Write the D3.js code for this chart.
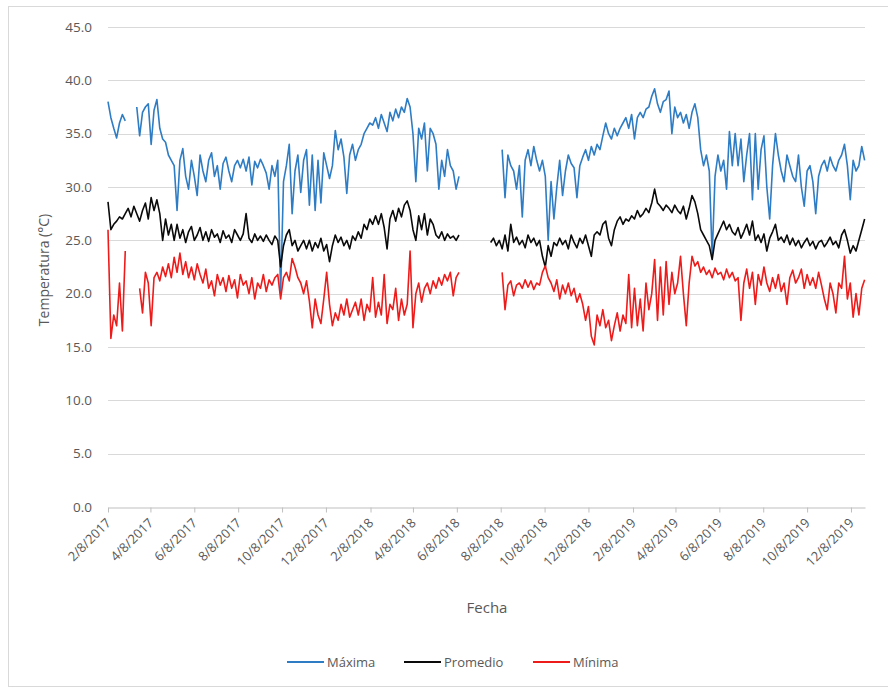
<!DOCTYPE html>
<html>
<head>
<meta charset="utf-8">
<script src="https://cdn.jsdelivr.net/npm/d3@7"></script>
<style>
  html, body { margin: 0; padding: 0; background: #fff; }
  svg { display: block; }
  text { font-family: "Open Sans", "Noto Sans", sans-serif; fill: #595959; }
</style>
</head>
<body>
<svg id="chart" width="888" height="690"></svg>
<script>
// Daily station temperatures, sampled every 4 days starting 8 Feb 2017 (null = no record)
const startDate = "2017-02-08";
const stepDays = 4;

const maxima = [
  38.0,36.5,35.5,34.6,36.0,36.8,36.2,null,null,null,
  37.5,34.8,37.0,37.5,37.8,34.0,37.2,38.2,35.5,34.5,
  34.2,33.0,32.5,32.0,27.8,32.5,33.6,31.0,29.8,32.5,
  31.0,29.2,33.0,31.5,30.5,32.5,33.2,31.0,32.0,29.8,
  32.2,32.8,31.5,30.5,32.0,32.5,31.8,32.6,31.5,32.8,
  30.2,32.4,31.8,32.6,32.0,31.3,29.8,32.0,31.0,32.5,
  20.0,30.5,32.0,34.0,27.5,31.5,33.0,29.5,32.5,33.5,
  28.3,33.0,27.8,32.5,28.5,33.2,32.0,30.8,32.0,35.3,
  33.5,34.5,32.8,29.4,33.0,34.0,32.5,33.5,34.0,35.0,
  35.5,36.0,35.8,36.5,35.5,36.8,36.0,35.2,37.0,36.2,
  37.3,36.5,37.5,37.0,38.3,37.5,35.0,30.5,35.5,34.5,
  36.0,31.5,35.5,35.0,34.0,29.8,32.5,31.0,33.5,32.0,
  31.5,29.8,31.0,null,null,null,null,null,null,null,
  null,null,null,null,null,null,null,33.5,29.0,33.0,
  32.0,31.5,29.8,32.0,27.2,32.5,33.5,32.0,33.8,32.5,
  31.5,32.5,31.0,25.0,30.5,27.0,30.0,32.5,29.2,31.5,
  33.0,32.2,31.8,29.0,32.0,32.8,33.5,32.5,33.8,33.0,
  34.0,33.5,34.8,36.0,35.0,34.5,35.5,34.8,35.5,36.0,
  36.5,35.5,36.8,34.5,36.5,37.0,36.5,37.3,37.5,38.5,
  39.2,37.8,37.0,38.0,38.2,39.0,35.0,37.5,36.5,37.0,
  36.0,36.8,35.5,37.0,37.8,36.5,33.5,32.0,33.0,31.5,
  23.5,31.0,33.0,31.5,32.5,29.8,35.2,32.0,35.0,32.0,
  34.5,30.5,33.0,35.0,28.8,35.0,29.8,33.5,34.8,30.0,
  27.0,32.0,35.0,33.0,31.5,30.5,33.0,32.0,31.0,30.5,
  33.0,30.0,28.2,31.5,32.0,30.5,27.5,31.0,32.0,32.5,
  31.5,32.8,32.0,31.5,32.5,33.0,34.0,32.0,28.8,32.5,
  31.5,32.0,33.8,32.5
];

const promedio = [
  28.6,26.0,26.5,26.8,27.2,27.0,27.5,28.0,27.2,28.2,
  27.5,26.8,27.8,28.5,27.0,29.0,27.8,28.8,27.5,25.0,
  27.0,25.5,26.5,25.0,26.5,25.2,26.0,24.8,25.8,26.3,
  25.0,25.5,26.2,25.0,25.8,24.9,26.0,25.3,25.6,24.8,
  25.9,25.2,25.5,24.8,26.0,25.5,25.0,25.6,27.5,25.2,
  24.8,25.6,25.0,25.4,24.9,25.5,25.0,24.6,25.4,25.0,
  22.5,24.5,25.5,26.0,24.5,25.0,24.0,24.5,25.0,24.2,
  25.0,24.0,24.8,24.3,25.2,24.0,24.6,23.0,24.5,25.5,
  24.8,25.3,24.5,25.0,24.2,25.4,25.0,25.8,25.2,26.5,
  26.0,27.0,26.5,27.3,26.5,27.5,26.2,24.2,27.0,27.8,
  26.8,28.0,27.2,28.3,28.7,27.8,26.0,25.0,27.3,26.0,
  27.5,25.5,27.0,26.5,25.5,25.2,25.8,25.0,25.6,25.2,
  25.4,25.0,25.5,null,null,null,null,null,null,null,
  null,null,null,24.8,25.2,24.5,25.0,24.2,25.5,24.0,
  26.5,24.8,25.3,24.6,25.0,24.3,25.5,24.8,25.2,24.5,
  25.0,23.5,22.5,24.5,23.5,24.8,24.5,25.2,24.6,25.0,
  24.2,25.5,24.8,24.3,25.2,24.7,25.5,24.5,23.5,25.5,
  25.8,25.5,26.5,26.8,25.2,24.5,26.0,26.8,27.2,26.5,
  27.0,26.8,27.3,27.0,27.8,27.2,27.5,28.0,27.6,28.5,
  29.8,28.5,28.2,27.8,28.3,28.0,27.6,28.3,27.8,27.5,
  28.2,27.0,28.0,29.2,28.6,27.5,26.0,25.5,25.0,24.5,
  23.2,25.0,25.6,26.2,26.8,26.0,26.5,25.8,25.5,26.2,
  25.2,25.8,26.5,25.5,26.8,25.0,25.5,24.8,25.6,24.0,
  25.2,25.8,26.5,25.0,25.3,24.8,25.5,24.6,25.2,24.5,
  25.0,24.3,24.8,25.2,24.5,24.9,24.2,24.8,25.0,24.4,
  24.8,25.3,24.6,24.9,24.3,25.5,26.0,25.0,23.8,24.5,
  24.0,25.0,26.0,27.0
];

const minima = [
  26.0,15.8,18.0,17.0,21.0,16.5,24.0,null,null,null,
  null,20.5,18.2,22.0,21.0,17.0,21.5,22.0,21.2,22.5,
  21.6,22.8,21.5,23.4,22.0,23.8,21.8,23.0,21.5,22.5,
  21.3,22.8,21.8,21.0,22.3,20.5,21.2,19.8,21.8,20.8,
  21.5,20.2,21.7,20.5,21.3,19.6,21.8,20.8,21.2,20.0,
  21.5,19.5,21.0,20.5,21.8,20.2,21.3,20.8,21.5,21.8,
  19.5,21.5,22.0,21.2,23.3,22.5,21.5,21.0,20.0,21.2,
  19.3,16.8,19.5,18.0,17.2,19.5,22.0,19.0,17.0,18.2,
  17.5,19.0,18.0,19.5,17.8,18.5,19.2,18.0,19.5,17.5,
  19.0,18.3,21.5,17.8,19.2,18.0,21.8,17.2,19.0,18.5,
  20.5,17.5,19.5,18.0,19.0,24.0,16.8,20.0,21.0,19.2,
  20.5,21.0,20.0,21.2,20.5,21.5,20.8,21.8,21.2,22.0,
  19.8,21.5,22.0,null,null,null,null,null,null,null,
  null,null,null,null,null,null,null,22.0,18.5,20.8,
  21.2,19.8,20.8,21.0,20.5,21.3,20.6,21.2,20.4,21.0,
  20.8,22.0,22.6,21.5,21.0,20.2,21.3,19.5,20.8,20.0,
  21.0,19.8,20.5,19.2,20.0,19.0,17.5,18.8,16.0,15.2,
  18.0,17.0,18.5,16.8,17.5,15.6,17.0,18.2,16.5,18.0,
  17.2,21.8,16.8,20.5,17.0,19.5,16.5,21.0,18.5,20.0,
  23.2,17.5,22.5,18.0,23.0,19.0,22.0,20.0,21.0,23.5,
  20.0,17.0,21.0,23.5,22.6,23.0,22.0,22.5,21.8,22.2,
  21.5,22.4,21.8,22.0,21.3,22.3,21.5,22.0,21.2,21.5,
  17.5,21.0,22.3,20.5,22.0,19.0,21.8,20.8,22.5,21.0,
  20.2,21.5,20.5,21.8,20.2,21.0,19.0,21.5,22.2,21.0,
  21.5,22.3,20.5,21.8,20.8,21.5,20.5,22.0,20.8,19.5,
  18.5,21.0,20.0,18.2,21.0,20.5,23.5,19.5,21.0,17.8,
  20.0,18.0,20.5,21.3
];

const tickLabels = [
  "2/8/2017","4/8/2017","6/8/2017","8/8/2017","10/8/2017","12/8/2017",
  "2/8/2018","4/8/2018","6/8/2018","8/8/2018","10/8/2018","12/8/2018",
  "2/8/2019","4/8/2019","6/8/2019","8/8/2019","10/8/2019","12/8/2019"
];
const yTicks = [0, 5, 10, 15, 20, 25, 30, 35, 40, 45];

const seriesInfo = [
  { name: "Máxima",   values: maxima,   color: "#2e7cc4" },
  { name: "Promedio", values: promedio, color: "#0a0a0a" },
  { name: "Mínima",   values: minima,   color: "#ee1b1b" }
];

const svg = d3.select("#chart");

// chart frame
svg.append("rect")
  .attr("x", 8.5).attr("y", 6.5)
  .attr("width", 890).attr("height", 680)
  .attr("fill", "none").attr("stroke", "#d9d9d9");

const plot = { left: 108, right: 865, top: 27, bottom: 507 };

const parseDay = d3.utcParse("%Y-%m-%d");
const parseTick = d3.utcParse("%m/%d/%Y");
const t0 = parseDay(startDate);
const nPts = maxima.length;
const tEnd = d3.utcHour.offset(d3.utcDay.offset(t0, (nPts - 1) * stepDays), 12);

const x = d3.scaleUtc().domain([t0, tEnd]).range([plot.left, plot.right]);
const y = d3.scaleLinear().domain([0, 45]).range([plot.bottom, plot.top]);

// horizontal gridlines
svg.append("g")
  .selectAll("line")
  .data(yTicks.filter(v => v > 0))
  .join("line")
  .attr("x1", plot.left).attr("x2", plot.right)
  .attr("y1", d => Math.round(y(d)) + 0.5).attr("y2", d => Math.round(y(d)) + 0.5)
  .attr("stroke", "#d9d9d9").attr("stroke-width", 1);

// y axis labels
const yAxis = d3.axisLeft(y).tickValues(yTicks).tickFormat(d3.format(".1f")).tickSize(0).tickPadding(16);
const gy = svg.append("g").attr("transform", `translate(${plot.left},0)`).call(yAxis);
gy.select(".domain").remove();
gy.selectAll("text").style("font-size", "13.5px").attr("fill", "#595959")
  .style("font-family", "'Open Sans', sans-serif");

// x axis
const tickDates = tickLabels.map(s => parseTick(s));
const xAxis = d3.axisBottom(x).tickValues(tickDates).tickFormat((d, i) => tickLabels[i]).tickSize(5).tickSizeOuter(0);
const gx = svg.append("g").attr("transform", `translate(0,${plot.bottom + 0.5})`).call(xAxis);
gx.select(".domain").attr("stroke", "#bfbfbf");
gx.selectAll(".tick line").attr("stroke", "#bfbfbf");
gx.selectAll("text")
  .style("font-size", "13px").attr("fill", "#595959")
  .style("font-family", "'Open Sans', sans-serif")
  .attr("text-anchor", "end")
  .attr("dy", "0.35em")
  .attr("x", 0).attr("y", 0)
  .attr("transform", "translate(0,13) rotate(-45)");

// series lines
const dates = d3.range(nPts).map(i => d3.utcDay.offset(t0, i * stepDays));
const line = d3.line()
  .defined(d => d.v != null)
  .x(d => x(d.t))
  .y(d => y(d.v));

seriesInfo.forEach(s => {
  const pts = s.values.map((v, i) => ({ t: dates[i], v }));
  svg.append("path")
    .datum(pts)
    .attr("d", line)
    .attr("fill", "none")
    .attr("stroke", s.color)
    .attr("stroke-width", 1.6)
    .attr("stroke-linejoin", "round");
});

// axis titles
svg.append("text")
  .attr("transform", "translate(49,270) rotate(-90)")
  .attr("text-anchor", "middle")
  .style("font-size", "14px")
  .attr("fill", "#404040")
  .text("Temperatura (°C)");

svg.append("text")
  .attr("x", 487).attr("y", 613)
  .attr("text-anchor", "middle")
  .style("font-size", "15px")
  .text("Fecha");

// legend
const legendItems = [
  { x: 287, label: "Máxima" },
  { x: 404, label: "Promedio" },
  { x: 533, label: "Mínima" }
];
const lg = svg.append("g");
legendItems.forEach((it, i) => {
  lg.append("line")
    .attr("x1", it.x).attr("x2", it.x + 37)
    .attr("y1", 662).attr("y2", 662)
    .attr("stroke", seriesInfo[i].color).attr("stroke-width", 2);
  lg.append("text")
    .attr("x", it.x + 40).attr("y", 662)
    .attr("dy", "0.35em")
    .style("font-size", "13px")
    .text(it.label);
});
</script>
</body>
</html>
